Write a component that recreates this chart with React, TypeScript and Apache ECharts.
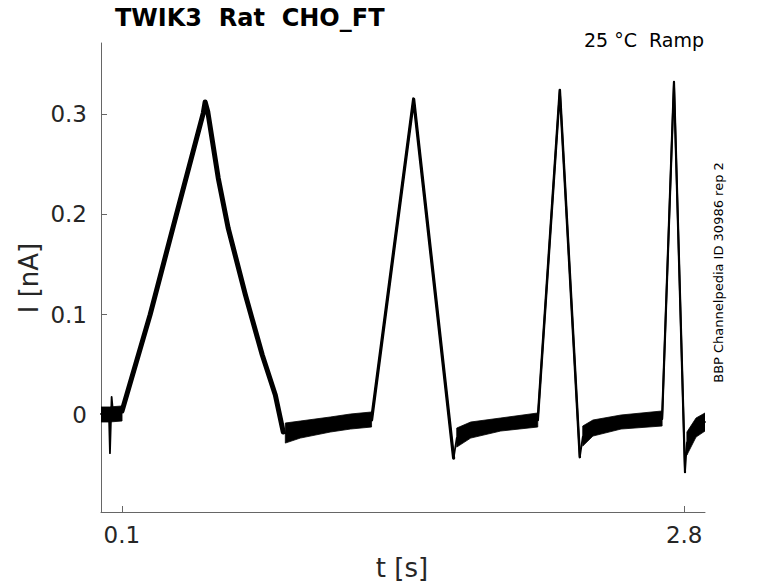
import React, { useEffect, useRef } from "react";
import * as echarts from "echarts";

// Current trace (centre line), time in s, current in nA
const traceT = [
  0.0, 0.019, 0.038, 0.043, 0.051, 0.058, 0.082, 0.101,
  0.236, 0.361, 0.491, 0.5, 0.513, 0.563, 0.611, 0.693, 0.774, 0.837, 0.875,
  0.895, 0.957, 1.101, 1.198, 1.299,
  1.501, 1.693,
  1.708, 1.775, 1.919, 2.097,
  2.203, 2.299,
  2.313, 2.362, 2.497, 2.694,
  2.751, 2.804,
  2.813, 2.857, 2.9,
];
const traceI = [
  0.001, -0.001, 0.002, -0.038, 0.018, 0.002, 0.001, 0.004,
  0.1, 0.199, 0.301, 0.312, 0.302, 0.236, 0.186, 0.12, 0.06, 0.02, -0.017,
  -0.019, -0.015, -0.011, -0.008, -0.005,
  0.315, -0.043,
  -0.023, -0.016, -0.0105, -0.005,
  0.324, -0.042,
  -0.022, -0.014, -0.0075, -0.004,
  0.332, -0.057,
  -0.028, -0.013, -0.007,
];

// Noise envelope of the flat (holding) segments
const noiseT = [
  [0.0, 0.04, 0.101],
  [0.885, 0.957, 1.101, 1.198, 1.299],
  [1.708, 1.775, 1.919, 2.097],
  [2.313, 2.362, 2.497, 2.694],
  [2.813, 2.857, 2.9],
];
const noiseLo = [
  [-0.007, -0.007, -0.006],
  [-0.028, -0.023, -0.017, -0.014, -0.012],
  [-0.032, -0.023, -0.016, -0.012],
  [-0.031, -0.021, -0.014, -0.011],
  [-0.04, -0.022, -0.016],
];
const noiseHi = [
  [0.008, 0.008, 0.009],
  [-0.008, -0.006, -0.002, 0.001, 0.003],
  [-0.013, -0.007, -0.003, 0.002],
  [-0.011, -0.005, 0.0, 0.004],
  [-0.017, -0.003, 0.002],
];

const xTicks = [0.1, 2.8];
const xTickLabels = ["0.1", "2.8"];
const yTicks = [0, 0.1, 0.2, 0.3];
const yTickLabels = ["0", "0.1", "0.2", "0.3"];

const titleText = "TWIK3  Rat  CHO_FT";
const conditionText = "25 °C  Ramp";
const sourceText = "BBP Channelpedia ID 30986 rep 2";
const xName = "t [s]";
const yName = "I [nA]";

const FONT = "DejaVu Sans";

export default function App() {
  const ref = useRef<HTMLDivElement>(null);

  useEffect(() => {
    document.body.style.margin = "0";
    if (!ref.current) return;
    const chart = echarts.init(ref.current, null, { renderer: "svg" });

    const trace = traceT.map((t, i) => [t, traceI[i]]);
    const slice = (a: number, b: number) => trace.slice(a, b + 1);

    const segData = noiseT.map((ts, s) => [s, ts[0], ts[ts.length - 1]]);

    const lineSeries = (data: number[][], w: number) => ({
      type: "line",
      data,
      showSymbol: false,
      symbol: "none",
      lineStyle: { color: "#000", width: w, join: "round", cap: "round" },
      clip: true,
      silent: true,
    });

    chart.setOption({
      animation: false,
      grid: { left: 101, right: 73, top: 43, bottom: 71 },
      xAxis: {
        type: "value",
        min: 0,
        max: 2.9,
        axisLine: { show: true, onZero: false, lineStyle: { color: "#666", width: 1 } },
        splitLine: { show: false },
        axisTick: { show: true, inside: true, length: 6, lineStyle: { color: "#666" }, customValues: xTicks },
        axisLabel: {
          customValues: xTicks,
          formatter: (v: number) => xTickLabels[xTicks.findIndex((x) => Math.abs(x - v) < 1e-9)] ?? "",
          fontSize: 23,
          fontFamily: FONT,
          color: "#262626",
          margin: 11,
        },
      },
      yAxis: {
        type: "value",
        min: -0.0967,
        max: 0.3708,
        axisLine: { show: true, onZero: false, lineStyle: { color: "#666", width: 1 } },
        splitLine: { show: false },
        axisTick: { show: true, inside: true, length: 6, lineStyle: { color: "#666" }, customValues: yTicks },
        axisLabel: {
          customValues: yTicks,
          formatter: (v: number) => yTickLabels[yTicks.findIndex((x) => Math.abs(x - v) < 1e-9)] ?? "",
          fontSize: 23,
          fontFamily: FONT,
          color: "#262626",
          margin: 14,
        },
      },
      series: [
        {
          type: "custom",
          data: segData,
          dimensions: ["seg", "tStart", "tEnd"],
          encode: { x: [1, 2] },
          silent: true,
          clip: true,
          renderItem: (params: any, api: any) => {
            const s = api.value(0);
            const ts = noiseT[s];
            const upper = ts.map((t, i) => api.coord([t, noiseHi[s][i]]));
            const lower = ts.map((t, i) => api.coord([t, noiseLo[s][i]])).reverse();
            return {
              type: "polygon",
              shape: { points: upper.concat(lower) },
              style: { fill: "#000", stroke: "#000", lineWidth: 0.8, lineJoin: "round" },
            };
          },
        },
        lineSeries(trace, 1.8),
        lineSeries(slice(7, 18), 5),
        lineSeries(slice(23, 25), 3.2),
        lineSeries(slice(29, 31), 2.5),
        lineSeries(slice(35, 37), 2.2),
      ],
      graphic: [
        {
          type: "text",
          x: 115,
          y: 18,
          silent: true,
          style: {
            text: titleText,
            fontSize: 24,
            fontWeight: "bold",
            fontFamily: FONT,
            fill: "#000",
            align: "left",
            verticalAlign: "middle",
            textAlign: "left",
            textVerticalAlign: "middle",
          },
        },
        {
          type: "text",
          x: 704,
          y: 40,
          silent: true,
          style: {
            text: conditionText,
            fontSize: 19,
            fontFamily: FONT,
            fill: "#000",
            align: "right",
            verticalAlign: "middle",
            textAlign: "right",
            textVerticalAlign: "middle",
          },
        },
        {
          type: "text",
          x: 718.5,
          y: 272.5,
          rotation: Math.PI / 2,
          silent: true,
          style: {
            text: sourceText,
            fontSize: 13,
            fontFamily: FONT,
            fill: "#000",
            align: "center",
            verticalAlign: "middle",
            textAlign: "center",
            textVerticalAlign: "middle",
          },
        },
        {
          type: "text",
          x: 29,
          y: 278,
          rotation: Math.PI / 2,
          silent: true,
          style: {
            text: yName,
            fontSize: 26,
            fontFamily: FONT,
            fill: "#262626",
            align: "center",
            verticalAlign: "middle",
            textAlign: "center",
            textVerticalAlign: "middle",
          },
        },
        {
          type: "text",
          x: 402,
          y: 568,
          silent: true,
          style: {
            text: xName,
            fontSize: 26,
            fontFamily: FONT,
            fill: "#262626",
            align: "center",
            verticalAlign: "middle",
            textAlign: "center",
            textVerticalAlign: "middle",
          },
        },
      ],
    });

    return () => chart.dispose();
  }, []);

  return <div ref={ref} style={{ width: 778, height: 583 }} />;
}
